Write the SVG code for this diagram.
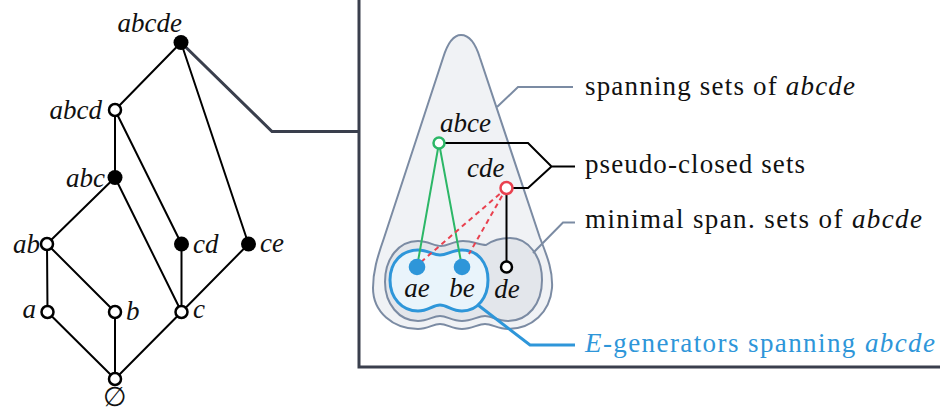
<svg xmlns="http://www.w3.org/2000/svg" width="940" height="419" viewBox="0 0 940 419">
<style>
text{font-family:'Liberation Serif','DejaVu Serif',serif;font-size:27px;fill:#111}
.it{font-style:italic}
.edge{stroke:#000;stroke-width:2;fill:none}
.open{fill:#fff;stroke:#000;stroke-width:2.5}
.full{fill:#000}
.dark{stroke:#3a3f4d;stroke-width:3;fill:none}
.slate{stroke:#7b8ba3;stroke-width:2;fill:none}
.blk{stroke:#000;stroke-width:2;fill:none}
.blue{stroke:#2e96d9;stroke-width:3;fill:none}
.set{stroke:#7b8ba3;stroke-width:2}
</style>
<rect width="940" height="419" fill="#fff"/>

<g id="frame">
<path class="dark" d="M359 0 V367 H940"/>
</g>

<g id="connectors">
<path class="edge" d="M181 42.5 L115 110 M181 42.5 L248.5 244 M115 110 L115 177.5 M115 110 L181.5 244 M115 177.5 L47 244 M115 177.5 L181.5 312 M47 244 L47.5 312 M47 244 L115 312 M47.5 312 L115 379 M115 312 L115 379 M181.5 312 L115 379 M181.5 244 L181.5 312 M248.5 244 L181.5 312"/>
<path class="dark" d="M181 42.5 L272 131.5 H359"/>
</g>

<g id="n-abcde"><circle class="full" cx="181" cy="42.5" r="7.5"/><text class="it" x="182" y="32" text-anchor="end">abcde</text></g>
<g id="n-abcd"><circle class="open" cx="115" cy="110" r="6"/><text class="it" x="102" y="119" text-anchor="end">abcd</text></g>
<g id="n-abc"><circle class="full" cx="115" cy="177.5" r="7.5"/><text class="it" x="105" y="187" text-anchor="end">abc</text></g>
<g id="n-ab"><circle class="open" cx="47" cy="244" r="6"/><text class="it" x="40" y="253" text-anchor="end">ab</text></g>
<g id="n-cd"><circle class="full" cx="181.5" cy="244" r="7.5"/><text class="it" x="193" y="253">cd</text></g>
<g id="n-ce"><circle class="full" cx="248.5" cy="244" r="7.5"/><text class="it" x="260" y="252">ce</text></g>
<g id="n-a"><circle class="open" cx="47.5" cy="312" r="6"/><text class="it" x="36" y="318" text-anchor="end">a</text></g>
<g id="n-b"><circle class="open" cx="115" cy="312" r="6"/><text class="it" x="126" y="320">b</text></g>
<g id="n-c"><circle class="open" cx="181.5" cy="312" r="6"/><text class="it" x="193" y="318">c</text></g>
<g id="n-empty"><circle class="open" cx="115" cy="379" r="6"/><text x="115" y="406" text-anchor="middle">∅</text></g>

<g id="spanning-sets">
<path class="set" fill="#f0f2f5" d="M461 35 C470 35 476 45 480 58 L540 238 C548 258 553 272 552 288 C550 312 532 329 508 329 C498 329 492 324 485 324 C478 324 472 329 462 329 C452 329 447 324 440 324 C433 324 428 329 418 329 C393 329 373 312 373 288 C373 272 377 258 384 238 L443 58 C447 45 452 35 461 35 Z"/>
</g>
<g id="minimal-sets">
<path class="set" fill="#e3e6eb" d="M385 282 C385 258 399 241 418 241 C428 241 434 246 441 246 C448 246 453 241 463 241 C473 241 479 245 486 245 C493 240 500 238 510 238 C528 238 542 256 542 280 C542 304 528 321 508 321 C498 321 491 316 485 316 C478 316 472 321 462 321 C452 321 447 316 440 316 C433 316 428 321 418 321 C399 321 385 304 385 282 Z"/>
</g>
<g id="e-generators">
<path d="M390 280 C390 262 402 250 418 250 C428 250 433 255 440 255 C447 255 452 250 462 250 C478 250 488 263 488 280 C488 297 478 311 462 311 C452 311 447 305 440 305 C433 305 428 311 418 311 C402 311 390 298 390 280 Z" fill="#e9f4fb" stroke="#2e96d9" stroke-width="3"/>
</g>

<g id="set-connectors">
<path d="M439 143 L417 267 M439 143 L462 267" stroke="#2cb767" stroke-width="2" fill="none"/>
<path d="M506.5 188 L421 262 M506.5 188 L469 254" stroke="#e9414f" stroke-width="2" stroke-dasharray="5 4" fill="none"/>
<path class="blk" d="M506.5 188 V267"/>
<path class="blk" d="M439 143 H528 L551.5 166.5 H575 M506.5 188 H528 L551.5 166.5"/>
<path class="slate" d="M497 107 L518 87 H573"/>
<path class="slate" d="M533 253 L563 222.5 H575"/>
<path class="blue" d="M478 305 L530 345 H575"/>
</g>

<g id="n-abce"><circle cx="439" cy="143" r="5.5" fill="#fff" stroke="#2cb767" stroke-width="2.5"/><text class="it" x="440" y="132" font-size="26.5">abce</text></g>
<g id="n-cde"><circle cx="506.5" cy="188" r="6" fill="#fff" stroke="#e9414f" stroke-width="2.5"/><text class="it" x="467" y="177" font-size="26.5">cde</text></g>
<g id="n-ae"><circle cx="417" cy="267" r="8.3" fill="#2e96d9"/><text class="it" x="417" y="297" text-anchor="middle">ae</text></g>
<g id="n-be"><circle cx="462" cy="267" r="8.3" fill="#2e96d9"/><text class="it" x="462" y="297" text-anchor="middle">be</text></g>
<g id="n-de"><circle class="open" cx="506.5" cy="267" r="5.5"/><text class="it" x="507" y="298" text-anchor="middle">de</text></g>

<g id="legend">
<text x="585" y="95" textLength="270" lengthAdjust="spacing">spanning sets of <tspan class="it">abcde</tspan></text>
<text x="585" y="173" textLength="220" lengthAdjust="spacing">pseudo-closed sets</text>
<text x="585" y="228" textLength="337" lengthAdjust="spacing">minimal span. sets of <tspan class="it">abcde</tspan></text>
<text x="585" y="352" textLength="350" lengthAdjust="spacing" style="fill:#2e96d9"><tspan class="it">E</tspan>-generators spanning <tspan class="it">abcde</tspan></text>
</g>
</svg>
